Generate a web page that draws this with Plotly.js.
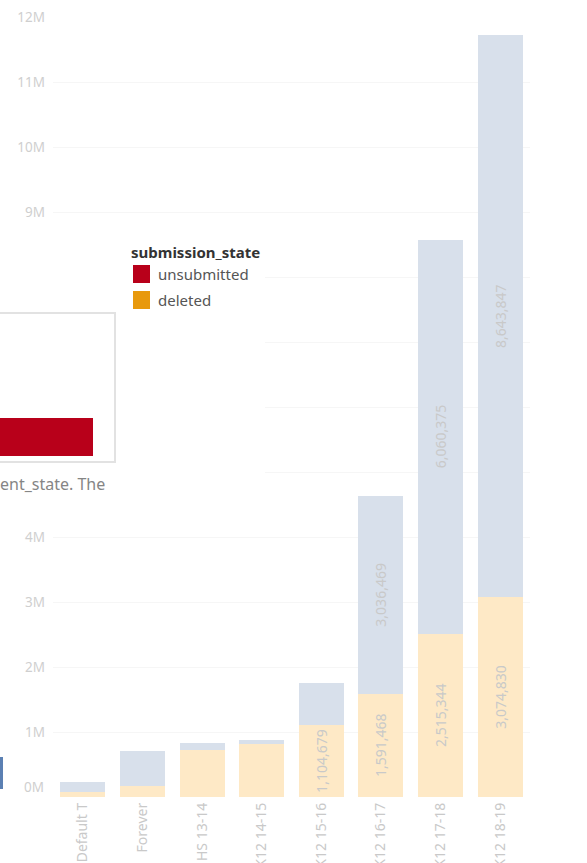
<!DOCTYPE html>
<html>
<head>
<meta charset="utf-8">
<script src="https://cdn.plot.ly/plotly-3.0.1.min.js"></script>
<style>
html,body{margin:0;padding:0;background:#fff;overflow:hidden;}
#chart{width:587px;height:863px;}
</style>
</head>
<body>
<div id="chart"></div>
<script>
// ---- data ----
var terms = ["Default T", "Forever", "HS 13-14", "K12 14-15", "K12 15-16", "K12 16-17", "K12 17-18", "K12 18-19"];
var deletedValues   = [70000, 170000, 723000, 815000, 1104679, 1591468, 2515344, 3074830];
var submittedValues = [165000, 540000, 107000, 62000, 645000, 3036469, 6060375, 8643847];
var deletedLabelShown   = [false, false, false, false, true, true, true, true];
var submittedLabelShown = [false, false, false, false, false, true, true, true];
var yTickValues = [1e6, 2e6, 3e6, 4e6, 5e6, 6e6, 7e6, 8e6, 9e6, 10e6, 11e6, 12e6];
// 5M-8M labels are hidden behind the overlay panel in the reference
var yTickLabels = ["1M", "2M", "3M", "4M", "", "", "", "", "9M", "10M", "11M", "12M"];
var legendTitle = "submission_state";
var legendItems = ["unsubmitted", "deleted"];
var overlayText = "ent_state. The";

function fmt(v){ return v.toLocaleString("en-US"); }
function labels(vals, shown){ return vals.map(function(v,i){ return shown[i] ? fmt(v) : ""; }); }

// plot area geometry in pixels (for overlay placement)
var L = 53, R = 530, T = 17, B = 797;
function px(x){ return (x - L) / (R - L); }
function py(y){ return (B - y) / (B - T); }

var font = "'Noto Sans', 'Open Sans', sans-serif";

var traces = [
  {
    type: "bar", name: "deleted", x: terms, y: deletedValues,
    marker: {color: "#fee9c6", line: {width: 0}},
    text: labels(deletedValues, deletedLabelShown),
    textposition: "inside", insidetextanchor: "middle", textangle: -90,
    insidetextfont: {family: font, size: 14, color: "#c9c9c9"},
    constraintext: "none", cliponaxis: false, hoverinfo: "none"
  },
  {
    type: "bar", name: "submitted", x: terms, y: submittedValues,
    marker: {color: "#d8e0eb", line: {width: 0}},
    text: labels(submittedValues, submittedLabelShown),
    textposition: "inside", insidetextanchor: "middle", textangle: -90,
    insidetextfont: {family: font, size: 14, color: "#c9c9c9"},
    constraintext: "none", cliponaxis: false, hoverinfo: "none"
  }
];

var shapes = [
  // white overlay panel
  {type: "rect", xref: "paper", yref: "paper", x0: px(-10), x1: px(265), y0: py(508), y1: py(226),
   fillcolor: "#ffffff", line: {width: 0}, layer: "above"},
  // popup box
  {type: "rect", xref: "paper", yref: "paper", x0: px(-10), x1: px(115), y0: py(462), y1: py(313),
   fillcolor: "#ffffff", line: {color: "#e2e2e2", width: 2}, layer: "above"},
  // red bar in popup
  {type: "rect", xref: "paper", yref: "paper", x0: px(-10), x1: px(93), y0: py(456), y1: py(418),
   fillcolor: "#b8001a", line: {width: 0}, layer: "above"},
  // legend swatches
  {type: "rect", xref: "paper", yref: "paper", x0: px(133), x1: px(150), y0: py(283), y1: py(265),
   fillcolor: "#b8001a", line: {width: 0}, layer: "above"},
  {type: "rect", xref: "paper", yref: "paper", x0: px(133), x1: px(150), y0: py(309), y1: py(291),
   fillcolor: "#e8990c", line: {width: 0}, layer: "above"},
  // blue sliver at left edge
  {type: "rect", xref: "paper", yref: "paper", x0: px(-10), x1: px(3), y0: py(789), y1: py(757),
   fillcolor: "#5b80b3", line: {width: 0}, layer: "above"}
];

var annotations = [
  {xref: "paper", yref: "paper", x: px(129), y: py(252), xanchor: "left", yanchor: "middle",
   text: "<b>" + legendTitle + "</b>", showarrow: false,
   font: {family: font, size: 15, color: "#333333"}},
  {xref: "paper", yref: "paper", x: px(156), y: py(274), xanchor: "left", yanchor: "middle",
   text: legendItems[0], showarrow: false, font: {family: font, size: 15, color: "#555555"}},
  {xref: "paper", yref: "paper", x: px(156), y: py(300), xanchor: "left", yanchor: "middle",
   text: legendItems[1], showarrow: false, font: {family: font, size: 15, color: "#555555"}},
  {xref: "paper", yref: "paper", x: px(-2), y: py(484), xanchor: "left", yanchor: "middle",
   text: overlayText, showarrow: false, font: {family: font, size: 16, color: "#858585"}},
  // 0M label (Tableau draws it nudged above the baseline)
  {xref: "paper", yref: "y", x: px(46), y: 0, yshift: 10, xanchor: "right", yanchor: "middle",
   text: "0M", showarrow: false, font: {family: font, size: 13.5, color: "#cfcfcf"}}
];

var layout = {
  width: 587, height: 863,
  margin: {l: L, r: 587 - R, t: T, b: 863 - B, pad: 0},
  paper_bgcolor: "#ffffff", plot_bgcolor: "#ffffff",
  barmode: "stack", bargap: 0.246,
  showlegend: false,
  font: {family: font},
  xaxis: {
    type: "category", tickangle: -90, showgrid: false, zeroline: false, showline: false,
    ticks: "", ticklabelstandoff: 2,
    tickfont: {family: font, size: 14, color: "#c9c9c9"}
  },
  yaxis: {
    range: [0, 12e6], tickvals: yTickValues, ticktext: yTickLabels,
    showgrid: true, gridcolor: "#f6f6f6", gridwidth: 1, zeroline: false, showline: false,
    ticks: "", ticklabelstandoff: 7,
    tickfont: {family: font, size: 13.5, color: "#cfcfcf"}
  },
  shapes: shapes,
  annotations: annotations
};

Plotly.newPlot("chart", traces, layout, {staticPlot: true, displayModeBar: false});
</script>
</body>
</html>
